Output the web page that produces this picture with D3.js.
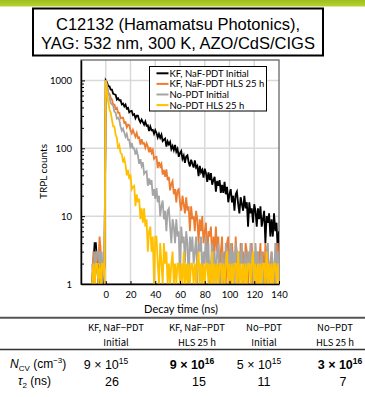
<!DOCTYPE html>
<html>
<head>
<meta charset="utf-8">
<script src="https://cdn.jsdelivr.net/npm/d3@7"></script>
<style>
  body { margin: 0; background: #fff; }
  .axis text { font-family: Lato, sans-serif; font-size: 9.5px; fill: #000; }
  .axis path, .axis line { stroke: #000; }
  .lbl { font-family: Lato, sans-serif; fill: #000; }
  .head { font-family: "Noto Sans CJK JP", sans-serif; font-size: 9.5px; fill: #000; }
  .val { font-family: "Liberation Sans", Arial, sans-serif; font-size: 12.5px; fill: #000; }
</style>
</head>
<body>
<div id="chart"></div>
<script>
// decay time (ns)
var times = [-11,-10,-9,-8,-7,-6,-5,-4,-3,-2,-1,
  0,1,2,3,4,5,6,7,8,9,10,11,12,13,14,15,16,17,18,19,20,21,22,23,24,25,26,27,28,29,30,
  31,32,33,34,35,36,37,38,39,40,41,42,43,44,45,46,47,48,49,50,51,52,53,54,55,56,57,58,59,60,
  61,62,63,64,65,66,67,68,69,70,71,72,73,74,75,76,77,78,79,80,81,82,83,84,85,86,87,88,89,90,
  91,92,93,94,95,96,97,98,99,100,101,102,103,104,105,106,107,108,109,110,111,112,113,114,115,116,117,118,119,120,
  121,122,123,124,125,126,127,128,129,130,131,132,133,134,135,136,137,138,139,140];

// TRPL counts
var kfInitial = [1,2,4,4,2,1,2,1,2,1,2,
  1000,934,822,820,735,734,637,626,612,524,546,
  505,511,443,455,414,441,385,394,338,352,
  357,308,317,277,302,302,262,241,265,242,
  222,247,214,218,179,209,184,187,163,185,
  168,144,163,143,159,128,134,139,106,126,
  114,124,97,108,94,112,89,98,75,85,
  91,70,78,61,76,79,62,54,68,59,
  52,66,52,55,39,55,44,48,37,50,
  43,32,44,34,43,29,34,38,23,33,
  28,34,22,29,22,32,21,27,16,21,
  25,16,20,12,21,23,15,11,19,15,
  12,20,13,16,7,16,11,13,8,15,
  12,7,13,9,14,7,9,12,4,10,
  8,11,5,9,5,11,6,8,3,6];

var kfHls = [1,3,1,2,3,2,5,3,1,2,2,
  1000,849,660,635,553,527,443,440,383,396,333,
  332,276,282,282,236,242,204,223,219,183,
  166,186,165,148,168,142,145,113,136,117,
  119,102,118,106,87,104,86,95,70,74,
  75,51,63,54,59,41,48,38,49,34,
  38,24,30,33,21,25,16,24,25,16,
  12,20,15,11,19,12,14,6,14,9,
  10,6,12,9,4,9,6,10,4,6,
  8,2,6,5,7,2,5,3,7,3,
  5,1,3,5,1,3,1,4,5,2,
  1,4,2,1,5,2,3,1,4,2,
  3,1,4,3,1,3,2,4,1,2,
  3,1,3,2,4,1,3,1,4,1,
  3,1,2,3,1,2,1,3,4,1];

var noInitial = [2,1,3,2,3,3,2,3,1,3,2,
  1000,845,650,579,461,442,422,346,335,274,281,
  260,208,181,195,170,148,163,133,133,100,
  120,100,100,81,93,78,59,69,55,62,
  42,45,46,28,36,29,34,20,25,18,
  26,16,20,10,14,17,9,12,6,12,
  13,7,4,9,7,4,9,5,6,1,
  7,4,5,2,6,4,1,5,3,5,
  2,3,5,1,4,3,5,1,3,2,
  5,2,4,1,2,4,1,3,1,3,
  4,1,1,3,2,1,4,2,3,1,
  4,2,3,1,4,3,1,3,2,4,
  1,2,3,1,3,2,4,1,3,1,
  4,2,3,1,2,3,1,2,1,3,
  4,1,1,3,2,1,4,2,3,1];

var noHls = [1,2,1,2,2,1,2,1,2,2,1,
  1000,683,489,376,336,265,210,209,157,143,98,
  110,85,82,62,70,57,40,48,35,41,
  25,27,28,14,21,16,18,9,13,8,
  13,7,9,3,6,7,3,5,1,5,
  5,2,1,4,2,1,4,2,3,1,
  2,1,2,3,1,2,1,2,2,1,
  2,1,3,1,2,1,2,1,2,2,
  1,2,1,2,3,1,2,1,2,1,
  2,2,1,2,1,3,1,2,1,2,
  1,2,2,1,2,1,2,3,1,2,
  1,2,1,2,2,1,3,1,2,1,
  2,1,2,1,2,2,1,2,3,1,
  2,1,2,1,2,1,2,2,1,3,
  1,2,1,2,1,2,2,1,2,1];

var seriesNames = ["KF, NaF-PDT Initial", "KF, NaF-PDT HLS 25 h", "No-PDT Initial", "No-PDT HLS 25 h"];
var seriesValues = [kfInitial, kfHls, noInitial, noHls];
var seriesColors = ["#000000", "#ed7d31", "#a5a5a5", "#ffc000"];

var xTicks = [0, 20, 40, 60, 80, 100, 120, 140];
var xGrid = [0, 20, 40, 60, 80, 100, 120];
var yTicks = [1, 10, 100, 1000];
var yMinor = [2,3,4,5,6,7,8,9,20,30,40,50,60,70,80,90,200,300,400,500,600,700,800,900];

var titleLines = ["C12132 (Hamamatsu Photonics),", "YAG: 532 nm, 300 K, AZO/CdS/CIGS"];
var colHead1 = ["KF, NaF\u2212PDT", "KF, NaF\u2212PDT", "No\u2212PDT", "No\u2212PDT"];
var colHead2 = ["Initial", "HLS 25 h", "Initial", "HLS 25 h"];
var ncvMant = [9, 9, 5, 3];
var ncvExp = [15, 16, 15, 16];
var ncvBold = [false, true, false, true];
var tau2 = [26, 15, 11, 7];

function init() {
    var w = 365;
    var h = 397;
    var left = 81, right = 279, top = 60, bottom = 284;

    var svg = d3.select("#chart")
                .append("svg")
                .attr("width", w)
                .attr("height", h);

    // green band on top
    var grad = svg.append("defs").append("linearGradient")
                  .attr("id", "band").attr("x1", 0).attr("y1", 0).attr("x2", 0).attr("y2", 1);
    grad.append("stop").attr("offset", "0%").attr("stop-color", "#9dc01a");
    grad.append("stop").attr("offset", "100%").attr("stop-color", "#b8d232");
    svg.append("rect").attr("x", 0).attr("y", 0).attr("width", w).attr("height", 6.5)
       .attr("fill", "url(#band)");

    // title box
    svg.append("rect")
       .attr("x", 33).attr("y", 8.5).attr("width", 290).attr("height", 47)
       .attr("fill", "#fff").attr("stroke", "#000").attr("stroke-width", 2);
    svg.selectAll(".title")
       .data(titleLines)
       .enter().append("text")
       .attr("class", "title")
       .attr("x", 178)
       .attr("y", function(d, i) { return 30 + i * 19; })
       .attr("text-anchor", "middle")
       .style("font-family", "'Liberation Sans', Arial, sans-serif")
       .style("font-size", "16.5px")
       .text(function(d) { return d; });

    var xScale = d3.scaleLinear().domain([-20, 140]).range([left, right]);
    var yScale = d3.scaleLog().domain([1, 2000]).range([bottom, top]);

    // grid
    svg.selectAll(".vgrid")
       .data(xGrid)
       .enter().append("line")
       .attr("x1", function(d) { return xScale(d); })
       .attr("x2", function(d) { return xScale(d); })
       .attr("y1", top).attr("y2", bottom)
       .attr("stroke", "#d9d9d9").attr("stroke-width", 1.5);
    svg.selectAll(".hgrid")
       .data(yTicks.slice(1))
       .enter().append("line")
       .attr("x1", left).attr("x2", right)
       .attr("y1", function(d) { return yScale(d); })
       .attr("y2", function(d) { return yScale(d); })
       .attr("stroke", "#d9d9d9").attr("stroke-width", 1.5);

    svg.append("rect")
       .attr("x", left).attr("y", top).attr("width", right - left).attr("height", bottom - top)
       .attr("fill", "none").attr("stroke", "#666").attr("stroke-width", 1.3);

    svg.append("clipPath").attr("id", "plotclip")
       .append("rect").attr("x", left).attr("y", top - 1).attr("width", right - left).attr("height", bottom - top + 1);

    var line = d3.line()
                 .x(function(d) { return xScale(d[0]); })
                 .y(function(d) { return yScale(d[1]); });

    var g = svg.append("g").attr("clip-path", "url(#plotclip)");
    seriesValues.forEach(function(vals, k) {
        g.append("path")
         .datum(times.map(function(t, i) { return [t, vals[i]]; }))
         .attr("fill", "none")
         .attr("stroke", seriesColors[k])
         .attr("stroke-width", 1.8)
         .attr("d", line);
    });

    // axes
    svg.append("g")
       .attr("class", "axis")
       .attr("transform", "translate(" + left + ",0)")
       .call(d3.axisLeft(yScale).tickValues(yMinor).tickFormat("").tickSizeInner(-3).tickSizeOuter(0))
       .select(".domain").remove();
    var ya = svg.append("g")
       .attr("class", "axis")
       .attr("transform", "translate(" + left + ",0)")
       .call(d3.axisLeft(yScale).tickValues(yTicks).tickFormat(d3.format("d"))
             .tickSizeInner(-4).tickSizeOuter(0).tickPadding(9));
    ya.select(".domain").attr("stroke-width", 1.5);

    var xa = svg.append("g")
       .attr("class", "axis")
       .attr("transform", "translate(0," + bottom + ")")
       .call(d3.axisBottom(xScale).tickValues(xTicks).tickSizeInner(-3).tickSizeOuter(0).tickPadding(7));
    xa.select(".domain").attr("stroke-width", 1.5);

    // axis titles
    svg.append("text")
       .attr("class", "lbl")
       .attr("transform", "translate(46.5,171.5) rotate(-90)")
       .attr("text-anchor", "middle")
       .style("font-size", "10px")
       .text("TRPL counts");
    svg.append("text")
       .attr("class", "lbl")
       .attr("x", 181).attr("y", 312.5)
       .attr("text-anchor", "middle")
       .style("font-size", "11px")
       .text("Decay time (ns)");

    // legend
    svg.append("rect")
       .attr("x", 149.5).attr("y", 66.5).attr("width", 117).attr("height", 44.5)
       .attr("fill", "#fff").attr("stroke", "#000").attr("stroke-width", 1);
    var leg = svg.selectAll(".leg")
       .data(seriesNames)
       .enter().append("g")
       .attr("transform", function(d, i) { return "translate(0," + (73.3 + i * 10.6) + ")"; });
    leg.append("line")
       .attr("x1", 156.5).attr("x2", 168.5).attr("y1", 0).attr("y2", 0)
       .attr("stroke", function(d, i) { return seriesColors[i]; })
       .attr("stroke-width", 2);
    leg.append("text")
       .attr("class", "lbl")
       .attr("x", 169.5).attr("y", 3.4)
       .style("font-size", "9.5px")
       .text(function(d) { return d; });

    // table
    svg.append("line").attr("x1", 0).attr("x2", w).attr("y1", 317.8).attr("y2", 317.8)
       .attr("stroke", "#555").attr("stroke-width", 2);
    svg.append("line").attr("x1", 0).attr("x2", w).attr("y1", 349.5).attr("y2", 349.5)
       .attr("stroke", "#333").attr("stroke-width", 1.5);

    var headX = [116, 197, 264, 335];
    var ncvX = [106, 192, 259, 340];
    var tauX = [112, 199, 264, 343];

    svg.selectAll(".h1").data(colHead1).enter().append("text")
       .attr("class", "head").attr("x", function(d, i) { return headX[i]; })
       .attr("y", 330.5).attr("text-anchor", "middle").text(function(d) { return d; });
    svg.selectAll(".h2").data(colHead2).enter().append("text")
       .attr("class", "head").attr("x", function(d, i) { return headX[i]; })
       .attr("y", 346).attr("text-anchor", "middle").text(function(d) { return d; });

    var nv = svg.selectAll(".ncv").data(ncvMant).enter().append("text")
       .attr("class", "val").attr("x", function(d, i) { return ncvX[i]; })
       .attr("y", 369).attr("text-anchor", "middle")
       .style("font-weight", function(d, i) { return ncvBold[i] ? "bold" : "normal"; });
    nv.append("tspan").text(function(d) { return d + " \u00d7 10"; });
    nv.append("tspan").attr("dy", -5).style("font-size", "8.5px")
      .text(function(d, i) { return ncvExp[i]; });

    svg.selectAll(".tau").data(tau2).enter().append("text")
       .attr("class", "val").attr("x", function(d, i) { return tauX[i]; })
       .attr("y", 386).attr("text-anchor", "middle")
       .text(function(d) { return d; });

    var r1 = svg.append("text").attr("class", "val").attr("x", 10).attr("y", 368).style("font-size", "12px");
    r1.append("tspan").style("font-style", "italic").text("N");
    r1.append("tspan").attr("dy", 3).style("font-size", "8px").text("CV");
    r1.append("tspan").attr("dy", -3).text(" (cm");
    r1.append("tspan").attr("dy", -5).style("font-size", "8px").text("\u22123");
    r1.append("tspan").attr("dy", 5).text(")");

    var r2 = svg.append("text").attr("class", "val").attr("x", 18).attr("y", 385).style("font-size", "12px");
    r2.append("tspan").style("font-style", "italic").text("\u03c4");
    r2.append("tspan").attr("dy", 3).style("font-size", "8px").text("2");
    r2.append("tspan").attr("dy", -3).text(" (ns)");
}
window.onload = init;
</script>
</body>
</html>
